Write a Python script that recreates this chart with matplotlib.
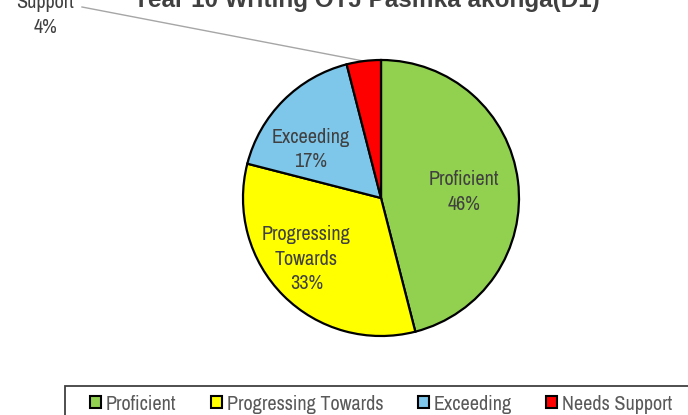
import numpy as np
import matplotlib.pyplot as plt
from matplotlib import font_manager as fm
from matplotlib.patches import Patch, Rectangle

# chart data
title = "Year 10 Writing OTJ Pasifika akonga(D1)"
categories = ["Proficient", "Progressing Towards", "Exceeding", "Needs Support"]
percent = [46, 33, 17, 4]
colours = ["#92D050", "#FFFF00", "#7EC6EA", "#FF0000"]

# the reference uses a narrow sans; take one if present
names = sorted({f.name for f in fm.fontManager.ttflist})
narrow = [n for n in names if "Narrow" in n or "Condensed" in n]
FONT = narrow[:1] + ["Liberation Sans", "DejaVu Sans"]
FS = 14.5 if narrow else 12.4
TXT = "#404040"
W, H = 688, 415

fig = plt.figure(figsize=(W / 100, H / 100), dpi=100)
ax = fig.add_axes([0, 0, 1, 1])

# pie geometry in pixel units (y measured from bottom)
cx, cy, R = 381, H - 198, 138
wedges, _ = ax.pie(percent, colors=colours, startangle=90, counterclock=False,
                   center=(cx, cy), radius=R,
                   wedgeprops=dict(edgecolor="black", linewidth=1.6))
ax.set_xlim(0, W)
ax.set_ylim(0, H)
ax.set_aspect("equal")
ax.set_axis_off()

# mid angles of each slice
frac = np.array(percent) / sum(percent)
starts = 90 - 360 * np.concatenate([[0], np.cumsum(frac)[:-1]])
mids = starts - 180 * frac

# inside labels: (angle nudge, radial distance) Excel "best fit" look
inside = {0: (-3, 0.60), 1: (-5.5, 0.70), 2: (10.5, 0.62)}
for i, (dang, rf) in inside.items():
    a = np.deg2rad(mids[i] + dang)
    ax.text(cx + rf * R * np.cos(a), cy + rf * R * np.sin(a),
            f"{categories[i].replace(' ', chr(10))}\n{percent[i]}%",
            ha="center", va="center", fontsize=FS, family=FONT,
            color=TXT, linespacing=1.37)

# small slice: outside label with leader line
i = 3
a = np.deg2rad(mids[i])
ax.plot([82, cx + R * np.cos(a)], [H - 7, cy + R * np.sin(a)],
        color="#A6A6A6", lw=1.0, zorder=0)
ax.text(45, H - 3, f"{categories[i].replace(' ', chr(10))}\n{percent[i]}%",
        ha="center", va="center", fontsize=FS, family=FONT,
        color=TXT, linespacing=1.37)

# title, mostly cut off by the top edge
ax.text(366, H - 7, title, ha="center", va="baseline", fontsize=17.5,
        fontweight="bold", family=["Liberation Sans", "DejaVu Sans"], color=TXT)

# legend box (runs off the right and bottom edges)
ax.add_patch(Rectangle((65, H - 386 - 60), 700, 60, facecolor="white",
                       edgecolor="#404040", lw=1.3))
handles = [Patch(facecolor=c, edgecolor="black", lw=1.5) for c in colours]
ax.legend(handles, categories, loc="center left", bbox_to_anchor=(90, H - 404),
          bbox_transform=ax.transData, ncol=4, frameon=False,
          handlelength=0.55, handleheight=0.55, handletextpad=0.25,
          columnspacing=1.7, borderpad=0, borderaxespad=0,
          prop=dict(family=FONT, size=FS), labelcolor="#595959")

fig.savefig("out.png", dpi=100)
